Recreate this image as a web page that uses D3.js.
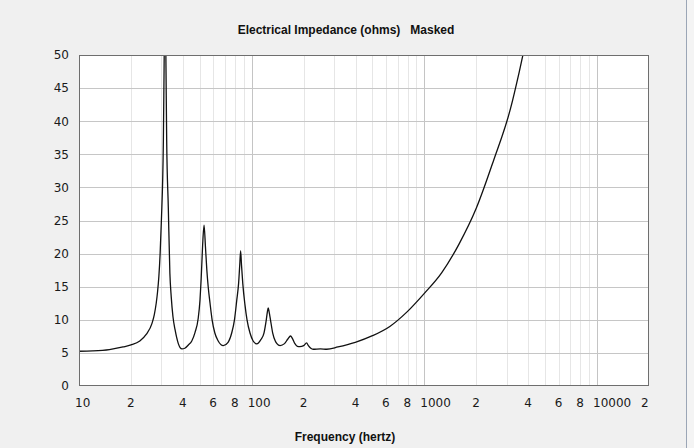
<!DOCTYPE html>
<html>
<head>
<meta charset="utf-8">
<script src="https://cdn.jsdelivr.net/npm/d3@7"></script>
<style>
	body {margin: 0; background: #f0f0f0;}
	svg {display: block;}
	text {font-family: "DejaVu Sans", Verdana, sans-serif;}
</style>
</head>
<body>
<svg width="694" height="448"></svg>
<script>
'use strict';
// impedance curve (hertz, ohms)
let aFreq = [10, 12, 15, 18, 20, 22.5, 24.5, 26.5, 27.3, 28, 28.5, 29, 29.5, 30, 30.8, 31.1, 31.5, 31.9, 32.2, 32.9,
	33.6, 34.2, 35, 36, 36.8, 37.6, 38.5, 39.5, 41, 43, 45, 47, 49, 50.2, 51, 52, 53, 54, 55, 56,
	57.4, 59, 61.2, 64, 68.5, 73, 76.6, 79.5, 82, 84, 85.3, 86.3, 87.3, 88.8, 91.4, 94, 97.8, 102, 107, 113,
	117.8, 121.5, 123.3, 124.7, 126.2, 128.5, 132.4, 137, 140, 146, 155, 162, 168, 172, 178, 184, 190, 200, 208, 213,
	220, 227, 250, 272, 316, 398, 501, 631, 794, 1000, 1259, 1585, 1995, 2512, 3162, 3548, 3981]
let aOhms = [5.25, 5.3, 5.5, 5.9, 6.2, 6.8, 7.8, 9.5, 10.8, 12.5, 14.2, 16.5, 20, 25, 37, 48, 62, 48, 37, 27,
	17, 13.5, 10.5, 8.5, 7.3, 6.4, 5.8, 5.6, 5.7, 6.2, 6.8, 8.1, 10.2, 13, 16.2, 21.3, 24.3, 21, 17.5, 15,
	12.5, 10, 8.0, 6.8, 6.1, 6.6, 8.0, 10, 13, 15.5, 18.3, 20.4, 18.3, 15.5, 12.3, 10, 8.0, 6.8, 6.35, 7.0,
	8.0, 10, 11.2, 11.8, 11.2, 10, 8.0, 6.8, 6.4, 6.1, 6.4, 7.1, 7.55, 7.2, 6.4, 6.0, 5.95, 6.1, 6.5, 6.1,
	5.7, 5.55, 5.6, 5.55, 5.9, 6.6, 7.6, 9.0, 11.2, 14.0, 17.1, 21.4, 26.8, 34.0, 42.0, 47.5, 53.5]

let aXTicks = [10, 20, 40, 60, 80, 100, 200, 400, 600, 800, 1000, 2000, 4000, 6000, 8000, 10000, 20000]
let aXLabels = ['10', '2', '4', '6', '8', '100', '2', '4', '6', '8', '1000', '2', '4', '6', '8', '10000', '2']
let aYTicks = [0, 5, 10, 15, 20, 25, 30, 35, 40, 45, 50]

let sTitle = 'Electrical Impedance (ohms)\u00a0\u00a0\u00a0Masked'
let sXTitle = 'Frequency (hertz)'

let eSvg = d3.select("svg"),
	dWidth = +eSvg.attr("width"),
	dHeight = +eSvg.attr("height")

// plot box
let pL = 79, pR = 649, pT = 55, pB = 386

let xScale = d3.scaleLog().domain([10, 20000]).range([pL, pR])
let yScale = d3.scaleLinear().domain([0, 50]).range([pB, pT])

// window background and edge
eSvg.append("rect").attr("width", dWidth).attr("height", dHeight).attr("fill", "#f0f0f0")
eSvg.append("rect").attr("x", 686).attr("width", dWidth - 686).attr("height", dHeight).attr("fill", "#f4f4f4")
eSvg.append("line").attr("x1", 686.5).attr("x2", 686.5).attr("y1", 0).attr("y2", dHeight)
	.attr("stroke", "#9ba6b6")

eSvg.append("rect").attr("x", pL).attr("y", pT).attr("width", pR - pL).attr("height", pB - pT)
	.attr("fill", "#fff")

// grid: light minor verticals, darker decades and horizontals
let isDecade = v => Math.abs(Math.log10(v) - Math.round(Math.log10(v))) < 1e-9
let eGrid = eSvg.append("g")
eGrid.selectAll("line.v")
	.data(xScale.ticks().filter(v => v > 10 && v < 20000))
	.enter().append("line")
	.attr("class", "v")
	.attr("x1", d => Math.round(xScale(d)) + 0.5).attr("x2", d => Math.round(xScale(d)) + 0.5)
	.attr("y1", pT).attr("y2", pB)
	.attr("stroke", d => isDecade(d) ? "#c4c4c4" : "#e6e6e6")
eGrid.selectAll("line.h")
	.data(aYTicks.filter(v => v > 0 && v < 50))
	.enter().append("line")
	.attr("class", "h")
	.attr("x1", pL).attr("x2", pR)
	.attr("y1", d => Math.round(yScale(d)) + 0.5).attr("y2", d => Math.round(yScale(d)) + 0.5)
	.attr("stroke", "#c6c6c6")

// curve
eSvg.append("clipPath").attr("id", "clip")
	.append("rect").attr("x", pL).attr("y", pT).attr("width", pR - pL).attr("height", pB - pT)

let line = d3.line()
	.x(i => xScale(aFreq[i]))
	.y(i => yScale(aOhms[i]))
	.curve(d3.curveMonotoneX)

eSvg.append("path")
	.datum(d3.range(aFreq.length))
	.attr("clip-path", "url(#clip)")
	.attr("d", line)
	.attr("fill", "none")
	.attr("stroke", "#111")
	.attr("stroke-width", 1.3)

// frame
eSvg.append("rect").attr("x", pL + 0.5).attr("y", pT + 0.5)
	.attr("width", pR - pL - 1).attr("height", pB - pT - 1)
	.attr("fill", "none").attr("stroke", "#6e6e6e")

// tick labels
eSvg.append("g").selectAll("text")
	.data(aYTicks)
	.enter().append("text")
	.attr("x", 69).attr("y", d => yScale(d)).attr("dy", "0.36em")
	.attr("text-anchor", "end")
	.attr("font-size", 12).attr("fill", "#1a1a1a")
	.text(d => d)

eSvg.append("g").selectAll("text")
	.data(aXTicks)
	.enter().append("text")
	.attr("x", d => Math.min(xScale(d) - 4, 641)).attr("y", 407)
	.attr("font-size", 12).attr("fill", "#1a1a1a")
	.text((d, i) => aXLabels[i])

// titles
eSvg.append("text")
	.attr("x", 346).attr("y", 34)
	.attr("text-anchor", "middle")
	.style("font-family", "'Liberation Sans', Arial, sans-serif")
	.attr("font-size", 12).attr("font-weight", "bold").attr("fill", "#111")
	.text(sTitle)

eSvg.append("text")
	.attr("x", 345).attr("y", 441)
	.attr("text-anchor", "middle")
	.style("font-family", "'Liberation Sans', Arial, sans-serif")
	.attr("font-size", 12).attr("font-weight", "bold").attr("fill", "#111")
	.text(sXTitle)
</script>
</body>
</html>
